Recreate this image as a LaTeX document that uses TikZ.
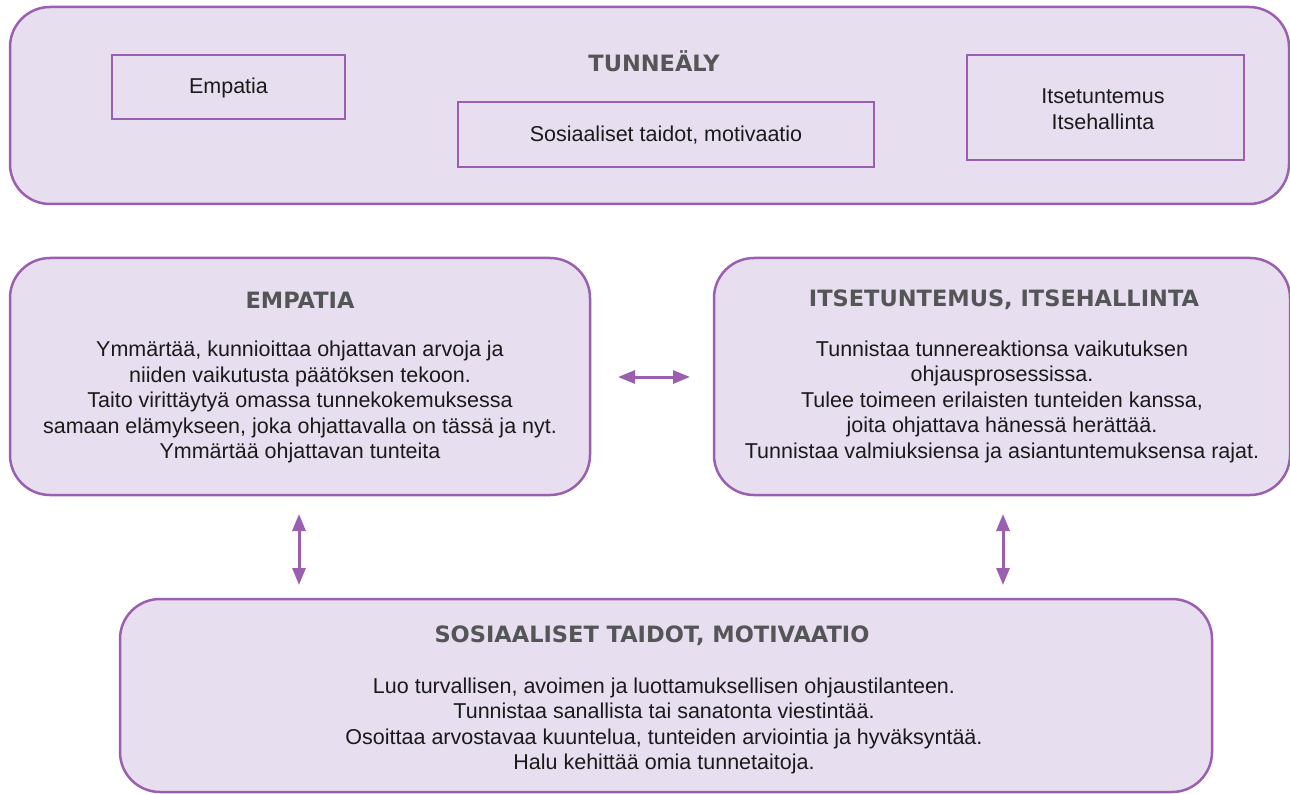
\documentclass[tikz,border=0pt]{standalone}
\usepackage{fontspec}
\setmainfont{Liberation Sans}
\newfontfamily\headfont{DejaVu Sans}
\usetikzlibrary{arrows.meta}
\definecolor{lav}{HTML}{E7DEEF}
\definecolor{pur}{HTML}{9B5FAF}
\definecolor{gry}{HTML}{545557}
\definecolor{ink}{HTML}{1A1A1A}
\begin{document}
\begin{tikzpicture}[x=1pt,y=-1pt,
  bigbox/.style={draw=pur, fill=lav, line width=2.5pt, rounded corners=40pt, inner sep=0pt},
  smallbox/.style={draw=pur, fill=lav, line width=2.5pt, inner sep=0pt},
  headtext/.style={font=\headfont\bfseries\fontsize{22.5}{27}\selectfont, text=gry, inner sep=0pt},
  bodytext/.style={font=\fontsize{21.5}{25.5}\selectfont, text=ink, align=center, inner sep=0pt},
  dbl/.style={draw=pur, line width=3pt, {Triangle[length=17pt,width=13pt]}-{Triangle[length=17pt,width=13pt]}}
]
\useasboundingbox (0,0) rectangle (1290,794);
\fill[white] (0,0) rectangle (1290,794);

% top box
\node[bigbox, minimum width=1279pt, minimum height=197pt] (top) at (649.5,105.5) {};
\node[headtext] (toptitle) at (654,61) {TUNNEÄLY};
\node[smallbox, minimum width=233pt, minimum height=64pt] (sEmp) at (228.5,87) {};
\node[bodytext] (sEmpT) at (228.5,88) {Empatia};
\node[smallbox, minimum width=416pt, minimum height=65pt] (sSos) at (666,134.5) {};
\node[bodytext] (sSosT) at (666,135) {Sosiaaliset taidot, motivaatio};
\node[smallbox, minimum width=277pt, minimum height=105pt] (sIts) at (1105.5,107.5) {};
\node[bodytext] (sItsT) at (1103,109) {Itsetuntemus\\Itsehallinta};

% middle boxes
\node[bigbox, minimum width=580pt, minimum height=237pt] (emp) at (300,376.5) {};
\node[headtext] (empT) at (300,300) {EMPATIA};
\node[bodytext] (empB) at (300,402) {Ymmärtää, kunnioittaa ohjattavan arvoja ja\\
niiden vaikutusta päätöksen tekoon.\\
Taito virittäytyä omassa tunnekokemuksessa\\
samaan elämykseen, joka ohjattavalla on tässä ja nyt.\\
Ymmärtää ohjattavan tunteita};

\node[bigbox, minimum width=576pt, minimum height=237pt] (its) at (1002,376.5) {};
\node[headtext] (itsT) at (1004,300) {ITSETUNTEMUS, ITSEHALLINTA};
\node[bodytext] (itsB) at (1002,401.5) {Tunnistaa tunnereaktionsa vaikutuksen\\
ohjausprosessissa.\\
Tulee toimeen erilaisten tunteiden kanssa,\\
joita ohjattava hänessä herättää.\\
Tunnistaa valmiuksiensa ja asiantuntemuksensa rajat.};

% bottom box
\node[bigbox, minimum width=1092pt, minimum height=193pt] (sos) at (666,695.5) {};
\node[headtext] (sosT) at (652,636) {SOSIAALISET TAIDOT, MOTIVAATIO};
\node[bodytext] (sosB) at (664,726) {Luo turvallisen, avoimen ja luottamuksellisen ohjaustilanteen.\\
Tunnistaa sanallista tai sanatonta viestintää.\\
Osoittaa arvostavaa kuuntelua, tunteiden arviointia ja hyväksyntää.\\
Halu kehittää omia tunnetaitoja.};

% connectors
\coordinate (h1) at (618,377);
\coordinate (h2) at (690,377);
\coordinate (v1a) at (299,514);
\coordinate (v1b) at (299,585);
\coordinate (v2a) at (1003,514);
\coordinate (v2b) at (1003,585);
\draw[dbl] (h1) -- (h2);
\draw[dbl] (v1a) -- (v1b);
\draw[dbl] (v2a) -- (v2b);
\end{tikzpicture}
\end{document}
